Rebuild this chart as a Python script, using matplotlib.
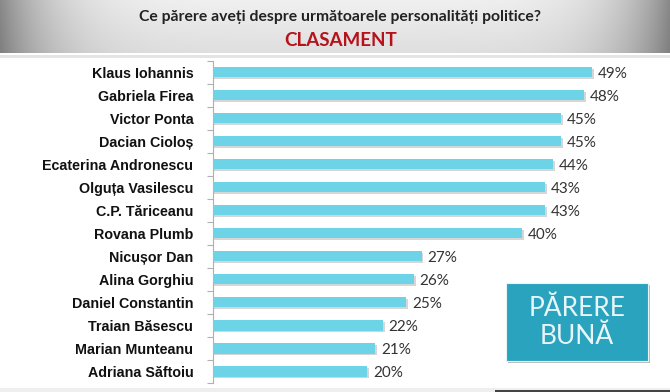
import numpy as np
import matplotlib
matplotlib.use("Agg")
import matplotlib.pyplot as plt
import matplotlib.patheffects as pe
from matplotlib.patches import Rectangle

names = ["Klaus Iohannis", "Gabriela Firea", "Victor Ponta", "Dacian Cioloș",
         "Ecaterina Andronescu", "Olguța Vasilescu", "C.P. Tăriceanu", "Rovana Plumb",
         "Nicușor Dan", "Alina Gorghiu", "Daniel Constantin", "Traian Băsescu",
         "Marian Munteanu", "Adriana Săftoiu"]
values = [49, 48, 45, 45, 44, 43, 43, 40, 27, 26, 25, 22, 21, 20]
title = "Ce părere aveți despre următoarele personalități politice?"
subtitle = "CLASAMENT"
badge = "PĂRERE\nBUNĂ"

W, H = 670, 392
fig = plt.figure(figsize=(W / 100, H / 100), dpi=100)
fig.patch.set_facecolor("white")

# title band with horizontal gradient
band = fig.add_axes([0, 1 - 53 / H, 1, 53 / H])
xg = np.linspace(-1, 1, 400)
g = 0.94 - 0.40 * np.abs(xg) ** 6
gv = np.linspace(1.0, 0.93, 60)[:, None]
img = np.clip(g[None, :] * gv, 0, 1)
band.imshow(np.dstack([img, img, img]), aspect="auto", extent=[0, 1, 0, 1])
band.set_axis_off()
fig.add_artist(Rectangle((0, 1 - 58 / H), 1, 3 / H, transform=fig.transFigure,
                         color="#e4e4e4", lw=0))
fig.text(0.507, 1 - 17 / H, title, ha="center", va="center", fontsize=11.3,
         fontweight="bold", family="Lato", color="#222222")
fig.text(0.508, 1 - 40 / H, subtitle, ha="center", va="center", fontsize=13.5,
         fontweight="bold", family="Lato", color="#B5121B")

# bottom band
fig.add_artist(Rectangle((0, 0), 1, 4 / H, transform=fig.transFigure, color="#eeeeee", lw=0))
fig.add_artist(Rectangle((495 / W, 0), 1, 2 / H, transform=fig.transFigure, color="#444444", lw=0))

ax = fig.add_axes([212.7 / W, 1 - 383 / H, (646 - 212.7) / W, (383 - 60.7) / H])
ax.set_facecolor("none")
y = np.arange(len(names))
bars = ax.barh(y, values, height=0.44, color="#6DD4E7", zorder=3,
               path_effects=[pe.SimplePatchShadow(offset=(1.2, -1.2), shadow_rgbFace="#9a9a9a", alpha=0.4),
                             pe.Normal()])
for yi, v in zip(y, values):
    ax.text(v + 0.75, yi + 0.08, f"{v}%", va="center", ha="left", fontsize=11,
            family="Lato", color="#333333")
ax.set_xlim(0, 56)
ax.set_ylim(len(names) - 0.5, -0.5)
ax.set_yticks(y)
ax.set_yticklabels(names, fontsize=10.3, fontweight="bold", family="Liberation Sans", color="#111111")
ax.tick_params(axis="y", which="major", length=0, pad=14)
ax.set_yticks(np.arange(len(names) + 1) - 0.5, minor=True)
ax.tick_params(axis="y", which="minor", length=4, color="#b0b0b0", width=0.8)
ax.set_xticks([])
for s in ["top", "right", "bottom"]:
    ax.spines[s].set_visible(False)
ax.spines["left"].set_color("#b0b0b0")
ax.spines["left"].set_linewidth(0.8)

# badge
bx0, by0, bx1, by1 = 506, 283, 648, 361
fig.add_artist(Rectangle((bx0 / W + 1.5 / W, 1 - by1 / H - 1.5 / H), (bx1 - bx0) / W, (by1 - by0) / H,
                         transform=fig.transFigure, color="#bbbbbb", lw=0))
fig.add_artist(Rectangle((bx0 / W, 1 - by1 / H), (bx1 - bx0) / W, (by1 - by0) / H,
                         transform=fig.transFigure, facecolor="#2AA3BF", edgecolor="#e8f4f7", lw=0.8))
fig.text((bx0 + bx1) / 2 / W, 1 - (by0 + by1) / 2 / H, badge, ha="center", va="center",
         fontsize=19, family="Lato", color="#E8F6FA", linespacing=1.15)

fig.savefig("out.png", dpi=100, facecolor="white")
